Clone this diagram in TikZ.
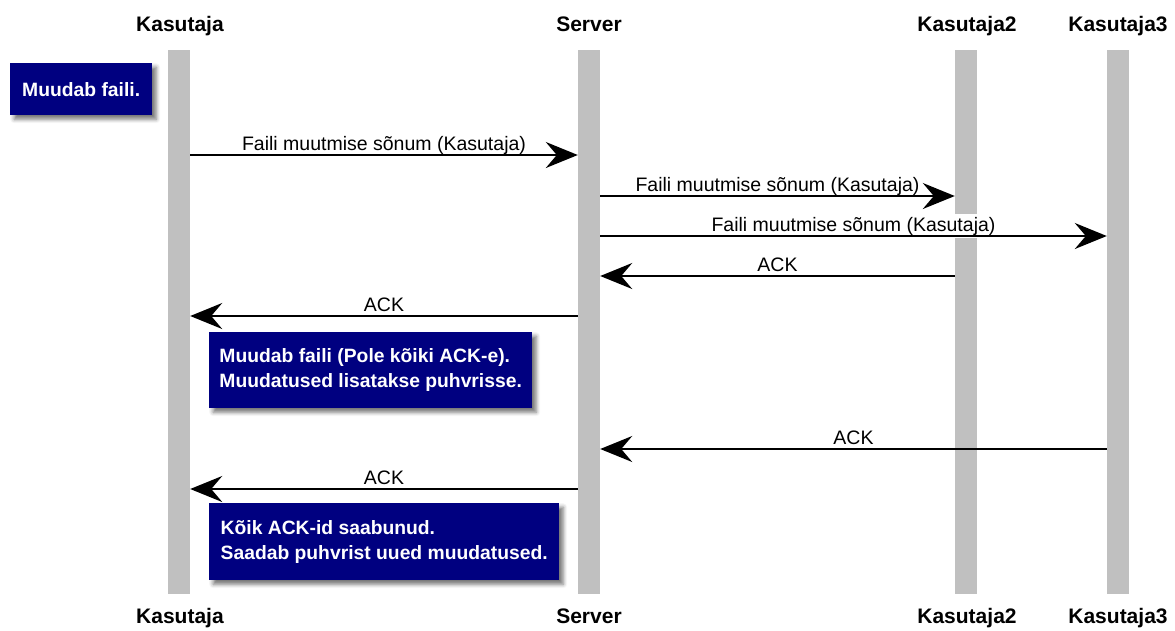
\documentclass[tikz,border=0pt]{standalone}
\usepackage{fontspec}
\setmainfont{Liberation Sans}
\usetikzlibrary{arrows.meta,shadows.blur}
\definecolor{notebg}{RGB}{0,0,128}
\definecolor{lifegray}{RGB}{192,192,192}

\begin{document}
\begin{tikzpicture}[x=1pt,y=-1pt,
  lifeline/.style={fill=lifegray, draw=none, minimum width=22pt, minimum height=544pt,
    inner sep=0pt, anchor=north},
  header/.style={font=\fontsize{21}{24}\selectfont\bfseries, anchor=base, inner sep=0pt},
  msg/.style={line width=2pt, -{Stealth[length=32pt,width=26pt,inset=11pt]}},
  msglabel/.style={font=\fontsize{19.5}{22}\selectfont, fill=white, inner xsep=1pt,
    inner ysep=3pt, anchor=base, yshift=5pt, behind path},
  note/.style={fill=notebg, text=white, font=\fontsize{19.3}{25}\selectfont\bfseries,
    align=left, anchor=north west, inner sep=0pt,
    blur shadow={shadow xshift=4pt, shadow yshift=-4pt, shadow blur radius=4pt,
      shadow opacity=55}}
]
\useasboundingbox (0,0) rectangle (1175,630);

% lifelines
\node[lifeline] (K)  at (179,50)  {};
\node[lifeline] (S)  at (589,50)  {};
\node[lifeline] (K2) at (966,50)  {};
\node[lifeline] (K3) at (1118,50) {};

% participant names, top and bottom
\node[header] (hK)  at (180,31)  {Kasutaja};
\node[header] (hS)  at (589,31)  {Server};
\node[header] (hK2) at (967,31)  {Kasutaja2};
\node[header] (hK3) at (1118,31) {Kasutaja3};
\node[header] (fK)  at (180,623)  {Kasutaja};
\node[header] (fS)  at (589,623)  {Server};
\node[header] (fK2) at (967,623)  {Kasutaja2};
\node[header] (fK3) at (1118,623) {Kasutaja3};

% messages
\draw[msg] (K.east |- 0,155) -- node[msglabel] (m1) {Faili muutmise sõnum (Kasutaja)} (S.west |- 0,155);
\draw[msg] (S.east |- 0,196) -- node[msglabel] (m2) {Faili muutmise sõnum (Kasutaja)} (K2.west |- 0,196);
\draw[msg] (S.east |- 0,236) -- node[msglabel] (m3) {Faili muutmise sõnum (Kasutaja)} (K3.west |- 0,236);
\draw[msg] (K2.west |- 0,276) -- node[msglabel] (m4) {ACK} (S.east |- 0,276);
\draw[msg] (S.west |- 0,316) -- node[msglabel] (m5) {ACK} (K.east |- 0,316);
\draw[msg] (K3.west |- 0,449) -- node[msglabel] (m6) {ACK} (S.east |- 0,449);
\draw[msg] (S.west |- 0,489) -- node[msglabel] (m7) {ACK} (K.east |- 0,489);

% notes
\node[note, minimum width=142pt, minimum height=52pt] (n1) at (10,63) {Muudab faili.};
\node[note, minimum width=323pt, minimum height=76pt] (n2) at (209,332)
  {Muudab faili (Pole kõiki ACK-e).\\Muudatused lisatakse puhvrisse.};
\node[note, minimum width=350pt, minimum height=77pt] (n3) at (209,503)
  {Kõik ACK-id saabunud.\\Saadab puhvrist uued muudatused.};
\end{tikzpicture}
\end{document}
